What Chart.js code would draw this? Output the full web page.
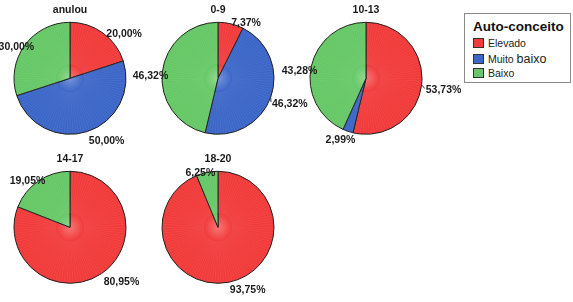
<!DOCTYPE html>
<html>
<head>
<meta charset="utf-8">
<script src="https://cdn.jsdelivr.net/npm/chart.js@4.4.1/dist/chart.umd.min.js"></script>
<style>
body { margin:0; width:573px; height:302px; overflow:hidden; background:#fff; position:relative; font-family:Arial, "Liberation Sans", sans-serif; }
.pie { position:absolute; }
.legend { position:absolute; left:464px; top:13px; width:105px; height:68px; border:1px solid #8a8a8a; background:#fff; }
.legend .ttl { position:absolute; left:8px; top:5px; font-weight:bold; font-size:13.5px; color:#111; }
.legend .it { position:absolute; left:8px; height:11px; font-size:10.5px; color:#222; line-height:11px; }
.legend .sw { position:absolute; left:0; top:0; width:11px; height:10px; border:1px solid #333; box-sizing:border-box; }
.legend .tx { position:absolute; left:15px; top:0; white-space:nowrap; }
</style>
</head>
<body>
<div id="wrap"></div>
<div class="legend" id="legend"><div class="ttl">Auto-conceito</div></div>
<script>
// data (percent per group)
const groups = ['anulou', '0-9', '10-13', '14-17', '18-20'];
const categories = ['Elevado', 'Muito baixo', 'Baixo'];
const elevado = [20.00, 7.37, 53.73, 80.95, 93.75];
const muitoBaixo = [50.00, 46.32, 2.99, 0, 0];
const baixo = [30.00, 46.32, 43.28, 19.05, 6.25];
const colors = ['#f23b3b', '#3c66c8', '#66c866'];

// where each pie canvas goes (left, top)
const pieBoxes = [[-25, 0], [123, 0], [271, 0], [-25, 149], [123, 149]];
// small label nudges [dx, dy] per slice, and slices with a leader line
const labelNudge = [
    [[13, 12], [15, -4], [3, 10]],
    [[12, 13], [6, 2], [2, 6]],
    [[8, 4], [-3, -4], [2, 7]],
    [[12, -3], [0, 0], [-3, 12]],
    [[16, -6], [0, 0], [-4, 14]]
];
const leaders = [[], [1], [0], [], []];

function mix(hex, t) {
    const n = parseInt(hex.slice(1), 16);
    const r = n >> 16, g = (n >> 8) & 255, b = n & 255;
    const f = c => Math.round(c + (255 - c) * t);
    return 'rgb(' + f(r) + ',' + f(g) + ',' + f(b) + ')';
}

function shaded(ctx) {
    const base = colors[ctx.dataIndex];
    const area = ctx.chart.chartArea;
    if (!area) return base;
    const cx = (area.left + area.right) / 2, cy = (area.top + area.bottom) / 2;
    const g = ctx.chart.ctx.createRadialGradient(cx, cy, 0, cx, cy, 56);
    g.addColorStop(0, mix(base, 0.3));
    g.addColorStop(0.25, base);
    g.addColorStop(1, base);
    return g;
}

// thin radial streaks like the original rendering
const streaks = {
    id: 'streaks',
    afterDatasetsDraw(chart) {
        const ctx = chart.ctx;
        chart.getDatasetMeta(0).data.forEach(arc => {
            const p = arc.getProps(['x', 'y', 'startAngle', 'endAngle', 'outerRadius']);
            if (p.endAngle - p.startAngle <= 0) return;
            ctx.save();
            ctx.beginPath();
            ctx.moveTo(p.x, p.y);
            ctx.arc(p.x, p.y, p.outerRadius - 1, p.startAngle, p.endAngle);
            ctx.closePath();
            ctx.clip();
            ctx.strokeStyle = 'rgba(255,255,255,0.1)';
            ctx.lineWidth = 0.6;
            for (let a = -Math.PI / 2; a < Math.PI * 1.5; a += Math.PI / 60) {
                ctx.beginPath();
                ctx.moveTo(p.x + Math.cos(a) * 14, p.y + Math.sin(a) * 14);
                ctx.lineTo(p.x + Math.cos(a) * p.outerRadius, p.y + Math.sin(a) * p.outerRadius);
                ctx.stroke();
            }
            ctx.restore();
        });
    }
};

// percent labels outside each slice
const pctLabels = {
    id: 'pctLabels',
    afterDraw(chart, args, opts) {
        const ctx = chart.ctx;
        const ds = chart.data.datasets[0];
        ctx.save();
        ctx.font = 'bold 10.5px Arial, "Liberation Sans", sans-serif';
        ctx.fillStyle = '#1a1a1a';
        ctx.textAlign = 'center';
        ctx.textBaseline = 'middle';
        chart.getDatasetMeta(0).data.forEach((arc, i) => {
            const v = ds.data[i];
            if (!v) return;
            const p = arc.getProps(['x', 'y', 'startAngle', 'endAngle', 'outerRadius']);
            const mid = (p.startAngle + p.endAngle) / 2;
            const d = p.outerRadius + 14;
            const nd = opts.nudge[i];
            const lx = p.x + Math.cos(mid) * d + nd[0];
            const ly = p.y + Math.sin(mid) * d + nd[1];
            const txt = v.toFixed(2).replace('.', ',') + '%';
            ctx.fillText(txt, lx, ly);
            if (opts.leaders.includes(i)) {
                const w = ctx.measureText(txt).width;
                ctx.strokeStyle = '#333';
                ctx.lineWidth = 1;
                ctx.beginPath();
                ctx.moveTo(p.x + Math.cos(mid) * p.outerRadius, p.y + Math.sin(mid) * p.outerRadius);
                ctx.lineTo(lx - w / 2 - 1, ly - 2);
                ctx.stroke();
            }
        });
        ctx.restore();
    }
};

const wrap = document.getElementById('wrap');
groups.forEach((name, g) => {
    const cv = document.createElement('canvas');
    cv.className = 'pie';
    cv.width = 190;
    cv.height = 160;
    cv.style.left = pieBoxes[g][0] + 'px';
    cv.style.top = pieBoxes[g][1] + 'px';
    wrap.appendChild(cv);

    new Chart(cv, {
        type: 'pie',
        data: {
            labels: categories,
            datasets: [{
                data: [elevado[g], muitoBaixo[g], baixo[g]],
                backgroundColor: shaded,
                borderColor: '#222',
                borderWidth: 1
            }]
        },
        options: {
            responsive: false,
            animation: false,
            events: [],
            layout: { padding: { left: 38.5, right: 38.5, top: 0, bottom: 25 } },
            plugins: {
                legend: { display: false },
                tooltip: { enabled: false },
                title: {
                    display: true,
                    text: name,
                    color: '#1a1a1a',
                    font: { family: 'Arial, "Liberation Sans", sans-serif', size: 10.5, weight: 'bold' },
                    padding: { top: 3.4, bottom: 5.6 }
                },
                pctLabels: { nudge: labelNudge[g], leaders: leaders[g] }
            }
        },
        plugins: [streaks, pctLabels]
    });
});

// legend box
const legend = document.getElementById('legend');
const itemTops = [24, 40, 54];
categories.forEach((c, i) => {
    const it = document.createElement('div');
    it.className = 'it';
    it.style.top = itemTops[i] + 'px';
    let label = c;
    if (c === 'Muito baixo') label = 'Muito <span style="font-size:12.5px">baixo</span>';
    it.innerHTML = '<div class="sw" style="background:' + colors[i] + '"></div><div class="tx">' + label + '</div>';
    legend.appendChild(it);
});
</script>
</body>
</html>
